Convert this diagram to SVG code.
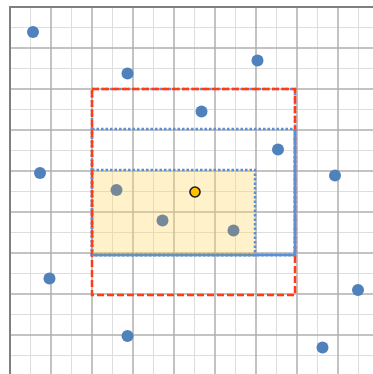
<svg xmlns="http://www.w3.org/2000/svg" width="373" height="374" viewBox="0 0 373 374">
<style>
.minor{stroke:#dedede;stroke-width:1;fill:none}
.major{stroke:#b0b0b0;stroke-width:1.5;fill:none}
.border{stroke:#7f7f7f;stroke-width:2;fill:none}
.pt{fill:#4f81bd}
.in{fill:#778899}
.blue{fill:none;stroke:#5b8fd6;stroke-width:2.5;stroke-dasharray:2.5 2}
.red{fill:none;stroke:#ff3c14;stroke-width:2.5;stroke-dasharray:7 3}
</style>
<rect width="373" height="374" fill="#ffffff"/>
<g id="grid">
<g class="minor">
<path d="M30.5 7V374M71.5 7V374M112.5 7V374M153.5 7V374M194.5 7V374M235.5 7V374M276.5 7V374M317.5 7V374M358.5 7V374"/>
<path d="M10 27.5H373M10 68.5H373M10 109.5H373M10 150.5H373M10 191.5H373M10 232.5H373M10 273.5H373M10 314.5H373M10 355.5H373"/>
</g>
<g class="major">
<path d="M51 7V374M92 7V374M133 7V374M174 7V374M215 7V374M256 7V374M297 7V374M338 7V374"/>
<path d="M10 48H373M10 89H373M10 130H373M10 171H373M10 212H373M10 253H373M10 294H373M10 335H373"/>
</g>
<path class="border" d="M10 374V7H373"/>
</g>
<g id="points">
<circle class="pt" cx="33" cy="32" r="6"/>
<circle class="pt" cx="127.5" cy="73.5" r="6"/>
<circle class="pt" cx="257.5" cy="60.5" r="6"/>
<circle class="pt" cx="201.5" cy="111.5" r="6"/>
<circle class="pt" cx="278" cy="149.5" r="6"/>
<circle class="pt" cx="40" cy="173" r="6"/>
<circle class="pt" cx="335" cy="175.5" r="6"/>
<circle class="pt" cx="49.5" cy="278.5" r="6"/>
<circle class="pt" cx="358" cy="290" r="6"/>
<circle class="pt" cx="127.5" cy="336" r="6"/>
<circle class="pt" cx="322.5" cy="347.5" r="6"/>
</g>
<g id="region">
<rect x="92" y="170" width="163" height="85" fill="#ffd966" fill-opacity="0.35"/>
</g>
<g id="connectors">
<rect class="blue" x="92" y="89" width="203" height="166"/>
<rect class="blue" x="92" y="129" width="203" height="126"/>
<rect class="blue" x="92" y="170" width="163" height="85"/>
<rect class="red" x="92" y="89" width="203" height="206"/>
<path d="M255 255H295V129" fill="none" stroke="#5b8fd6" stroke-width="2.5"/>
<path d="M92 255H255" fill="none" stroke="#6f8fae" stroke-width="2.5"/>
</g>
<g id="inside">
<circle class="in" cx="116.5" cy="190" r="6"/>
<circle class="in" cx="162.5" cy="220.5" r="6"/>
<circle class="in" cx="233.5" cy="230.5" r="6"/>
</g>
<g id="query">
<circle cx="195" cy="192" r="5" fill="#ffc000" stroke="#1a1a1a" stroke-width="1.6"/>
</g>
</svg>
